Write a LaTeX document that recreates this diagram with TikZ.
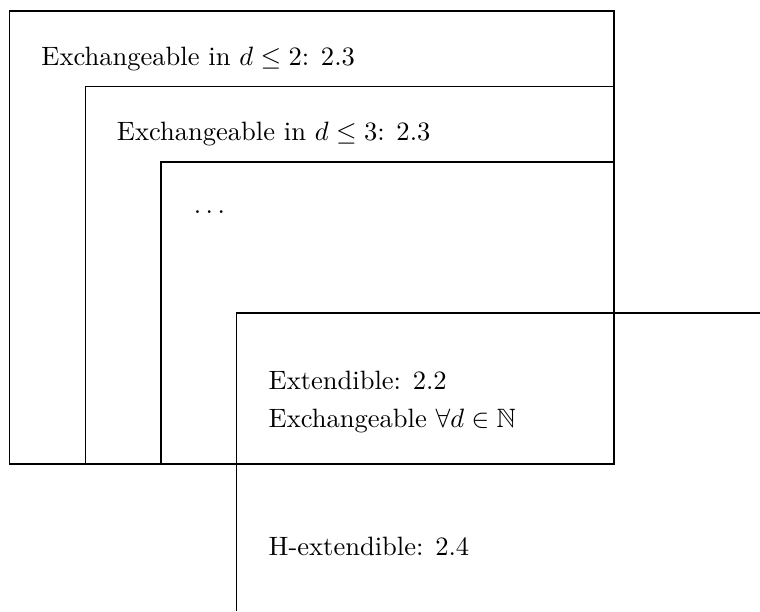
\documentclass[tikz,border=0pt]{standalone}
\usepackage{amsmath,amssymb}

\begin{document}
\begin{tikzpicture}

        \useasboundingbox (-0.132,-1.947) rectangle (9.934,6.146);

        % nested sets

        \draw (0,0) rectangle (8,6); % d <= 2
        \draw (1,0) -- (1,5) -- (8,5); % d <= 3
        \draw (2,0) -- (2,4) -- (8,4); % dots
        \draw (3,-1.947) -- (3,2) -- (9.934,2); % H-extendible

        % labels

        \node[anchor=base west, inner sep=0] (exTwo) at (0.41,5.28) {Exchangeable in $d \leq 2$: 2.3};
        \node[anchor=base west, inner sep=0] (exThree) at (1.41,4.28) {Exchangeable in $d \leq 3$: 2.3};
        \node[anchor=base west, inner sep=0] (dots) at (2.43,3.32) {$\dots$};

        \node[anchor=base west, inner sep=0] (ext) at (3.42,0.99) {Extendible: 2.2};
        \node[anchor=base west, inner sep=0] (exAll) at (3.42,0.49) {Exchangeable $\forall d \in \mathbb{N}$};

        \node[anchor=base west, inner sep=0] (hext) at (3.42,-1.21) {H-extendible: 2.4};

    \end{tikzpicture}
\end{document}
